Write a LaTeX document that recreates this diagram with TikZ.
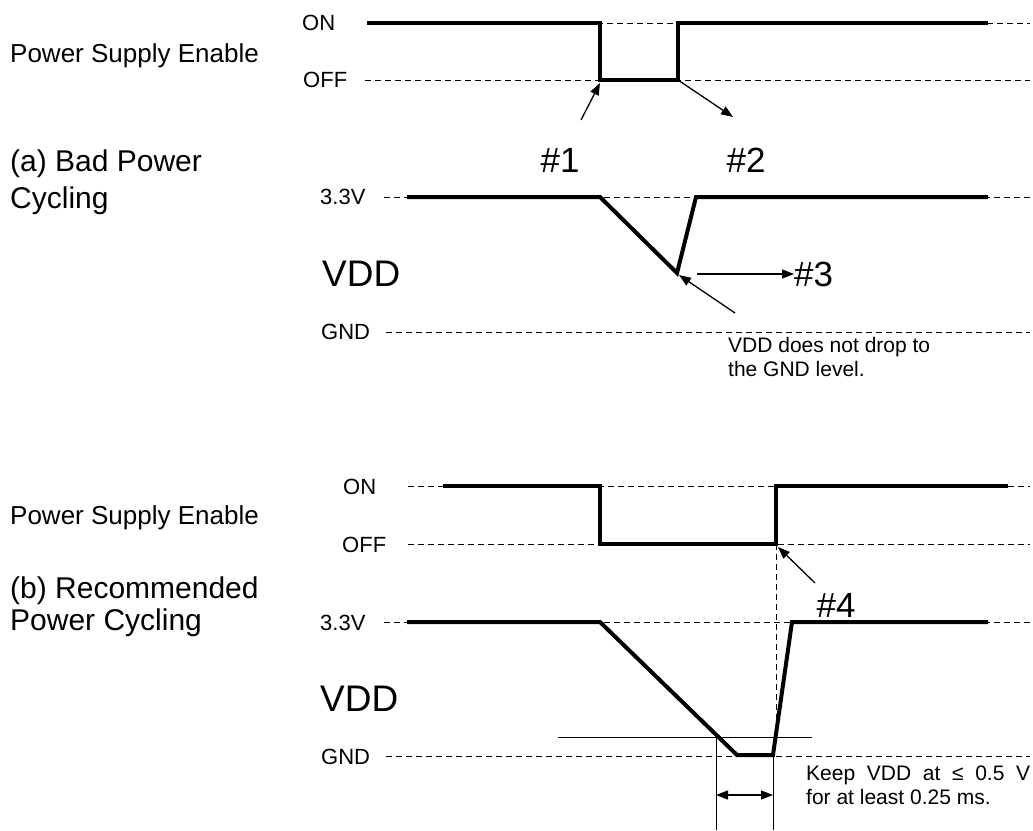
\documentclass[tikz,border=0pt]{standalone}
\usepackage{fontspec}
\setmainfont{Liberation Sans}
\usepackage{tikz}
\usetikzlibrary{arrows.meta,positioning}

\tikzset{
  wave/.style={line width=4pt, line join=miter},
  level/.style={line width=1pt, dash pattern=on 6pt off 4pt},
  guide/.style={line width=1pt},
  callout/.style={line width=1.3pt, -{Triangle[length=12pt,width=9pt]}},
  span/.style={line width=1.3pt, {Triangle[length=12pt,width=9pt]}-{Triangle[length=12pt,width=9pt]}},
  tag/.style={font=\fontsize{22}{26}\selectfont, inner sep=0pt, anchor=west},
  sig/.style={font=\fontsize{37}{40}\selectfont, inner sep=0pt, anchor=west},
  num/.style={font=\fontsize{35}{40}\selectfont, inner sep=0pt},
  side/.style={font=\fontsize{26}{30}\selectfont, inner sep=0pt, anchor=base west},
  head/.style={font=\fontsize{30}{36}\selectfont, inner sep=0pt, anchor=base west},
  note/.style={font=\fontsize{21}{24}\selectfont, inner sep=0pt, anchor=north west, align=left},
}

\begin{document}
\begin{tikzpicture}[x=1pt,y=-1pt]
  \useasboundingbox (0,0) rectangle (1033,830);

    \node[side] (psea) at (10,62) {Power Supply Enable};
    \node[head] (capa) at (10,171) {(a) Bad Power};
    \node[head] (capb) at (10,208) {Cycling};

    \draw[level] (367,23) -- (1030,23);
    \draw[level] (365,80) -- (1030,80);
    \draw[level] (384,197) -- (1030,197);
    \draw[level] (386,332) -- (1030,332);

    \node[tag] (ona) at (302,23) {ON};
    \node[tag] (offa) at (303,80) {OFF};
    \node[tag] (higha) at (320,197) {3.3V};
    \node[sig] (vdda) at (322,274) {VDD};
    \node[tag] (gnda) at (321,332) {GND};

    \coordinate (fa) at (600,80);
    \coordinate (ra) at (678,80);
    \coordinate (dipa) at (677,273);
    \draw[wave] (367,23) -- (600,23) -- (fa) -- (ra) -- (678,23) -- (988,23);
    \draw[wave] (407,197) -- (600,197) -- (dipa) -- (696,197) -- (988,197);

    \node[num] (n1) at (560,160) {\#1};
    \node[num] (n2) at (746,160) {\#2};
    \node[num, anchor=west] (n3) at (794,274) {\#3};
    \coordinate (t1) at (581,120);
    \coordinate (t2) at (733,117);
    \coordinate (t3) at (697,274);
    \coordinate (t4) at (735,313);
    \draw[callout] (t1) -- ([yshift=-3pt]fa);
    \draw[callout] (ra) -- (t2);
    \draw[callout] (t3) -- (n3.west);
    \draw[callout] (t4) -- ([shift={(2pt,-2pt)}]dipa);

    \node[note] (dropnote) at (728,337) {VDD does not drop to\\the GND level.};

    \node[side] (pseb) at (10,524) {Power Supply Enable};
    \node[head] (capc) at (10,598) {(b) Recommended};
    \node[head] (capd) at (10,630) {Power Cycling};

    \draw[level] (408,486) -- (1030,486);
    \draw[level] (408,544) -- (1030,544);
    \draw[level] (384,622) -- (1030,622);
    \draw[level] (386,756) -- (1030,756);

    \node[tag] (onb) at (343,487) {ON};
    \node[tag] (offb) at (342,545) {OFF};
    \node[tag] (highb) at (320,623) {3.3V};
    \node[sig] (vddb) at (320,699) {VDD};
    \node[tag] (gndb) at (321,757) {GND};

    \coordinate (rb) at (776,544);
    \coordinate (lowa) at (737,755);
    \coordinate (lowb) at (773,755);
    \coordinate (cross) at (716,737);
    \draw[level] (rb) -- (776,740);
    \draw[wave] (443,486) -- (600,486) -- (600,544) -- (rb) -- (776,486) -- (1008,486);
    \draw[wave] (407,622) -- (600,622) -- (lowa) -- (lowb) -- (792,622) -- (988,622);

    \node[num] (n4) at (836,605) {\#4};
    \coordinate (t5) at (815,583);
    \draw[callout] (t5) -- ([shift={(2pt,-3pt)}]rb);

    \draw[guide] (558,737) -- (812,737);
    \draw[guide] (cross) -- (716,830);
    \draw[guide] (lowb) -- (773,830);
    \coordinate (sa) at (716,795);
    \coordinate (sb) at (773,795);
    \draw[span] (sa) -- (sb);

    \node[note] (keepnote) at (806,766) {\makebox[224pt][s]{Keep VDD at ≤ 0.5 V}\\for at least 0.25 ms.};

  \end{tikzpicture}
\end{document}
